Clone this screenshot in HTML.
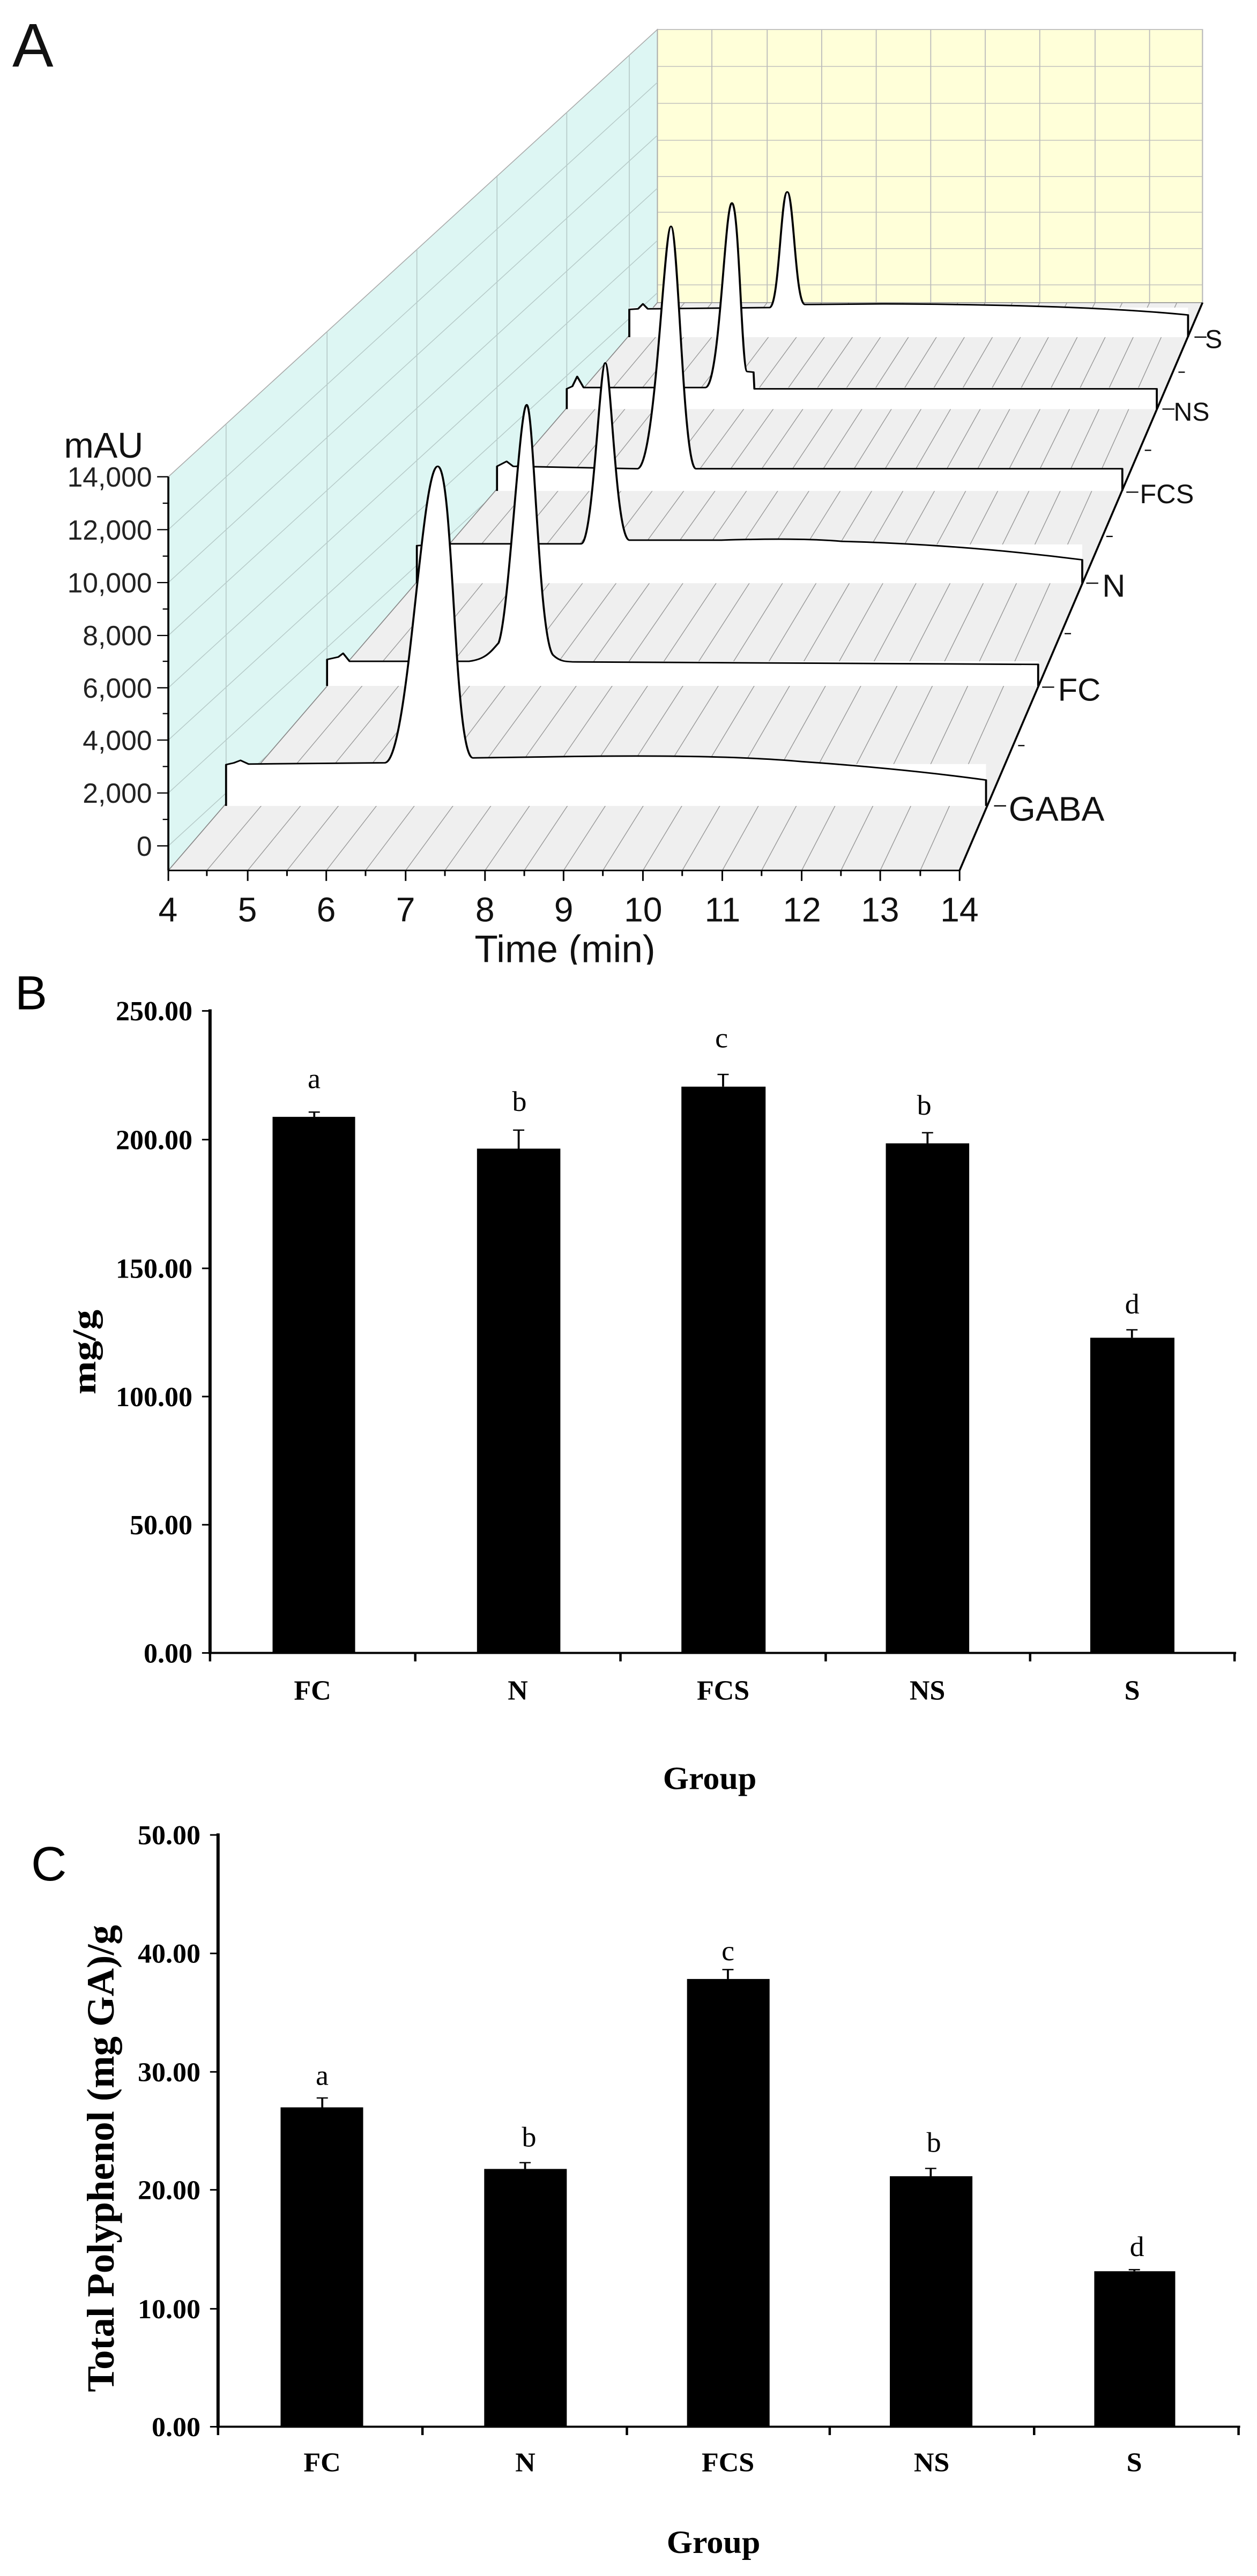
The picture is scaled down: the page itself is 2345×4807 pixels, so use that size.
<!DOCTYPE html>
<html><head><meta charset="utf-8"><style>
html,body{margin:0;padding:0;background:#fff;}
svg{display:block;position:absolute;left:0;}
.s{font-family:"Liberation Sans",sans-serif;}
.t{font-family:"Liberation Serif",serif;font-weight:bold;}
</style></head><body>
<div style="position:relative;width:2345px;height:4807px;overflow:hidden;">
<!-- Panel A -->
<svg style="top:0" width="2345" height="1800" viewBox="0 0 1568 1568" preserveAspectRatio="none">
<g class="s">
<rect x="820" y="48" width="680" height="444" fill="#ffffd9" stroke="#bbb" stroke-width="1.5"/>
<g stroke="#bbb" stroke-width="1.2">
<line x1="888" y1="48" x2="888" y2="492"/><line x1="957" y1="48" x2="957" y2="492"/><line x1="1025" y1="48" x2="1025" y2="492"/><line x1="1093" y1="48" x2="1093" y2="492"/><line x1="1161" y1="48" x2="1161" y2="492"/><line x1="1229" y1="48" x2="1229" y2="492"/><line x1="1297" y1="48" x2="1297" y2="492"/><line x1="1366" y1="48" x2="1366" y2="492"/><line x1="1434" y1="48" x2="1434" y2="492"/>
<line x1="820" y1="108" x2="1500" y2="108"/><line x1="820" y1="168" x2="1500" y2="168"/><line x1="820" y1="228" x2="1500" y2="228"/><line x1="820" y1="287" x2="1500" y2="287"/><line x1="820" y1="345" x2="1500" y2="345"/><line x1="820" y1="404" x2="1500" y2="404"/><line x1="820" y1="463" x2="1500" y2="463"/>
</g>
<polygon points="210,775 820,48 820,492 210,1415" fill="#ddf6f3" stroke="#aaa" stroke-width="1.2"/>
<g stroke="#b5c9c7" stroke-width="1.1">
<line x1="282" y1="690" x2="282" y2="1330"/><line x1="408" y1="540" x2="408" y2="1140"/><line x1="520" y1="406" x2="520" y2="970"/><line x1="620" y1="287" x2="620" y2="818"/><line x1="707" y1="183" x2="707" y2="680"/><line x1="785" y1="90" x2="785" y2="560"/>
<line x1="210" y1="861" x2="820" y2="134"/><line x1="210" y1="947" x2="820" y2="220"/><line x1="210" y1="1033" x2="820" y2="306"/><line x1="210" y1="1118" x2="820" y2="391"/><line x1="210" y1="1203" x2="820" y2="476"/><line x1="210" y1="1289" x2="745" y2="650"/><line x1="210" y1="1375" x2="620" y2="886"/>
</g>
<polygon points="210,1415 1197,1415 1500,492 820,492" fill="#efefef" stroke="#888" stroke-width="1.2"/>
<g stroke="#999" stroke-width="1">
<line x1="309" y1="1415" x2="888" y2="492"/><line x1="407" y1="1415" x2="957" y2="492"/><line x1="506" y1="1415" x2="1025" y2="492"/><line x1="605" y1="1415" x2="1093" y2="492"/><line x1="703" y1="1415" x2="1161" y2="492"/><line x1="802" y1="1415" x2="1229" y2="492"/><line x1="901" y1="1415" x2="1297" y2="492"/><line x1="1000" y1="1415" x2="1366" y2="492"/><line x1="1098" y1="1415" x2="1434" y2="492"/>
<line x1="258" y1="1415" x2="854" y2="492"/><line x1="358" y1="1415" x2="922" y2="492"/><line x1="456" y1="1415" x2="991" y2="492"/><line x1="555" y1="1415" x2="1059" y2="492"/><line x1="654" y1="1415" x2="1127" y2="492"/><line x1="752" y1="1415" x2="1195" y2="492"/><line x1="851" y1="1415" x2="1263" y2="492"/><line x1="950" y1="1415" x2="1331" y2="492"/><line x1="1049" y1="1415" x2="1400" y2="492"/><line x1="1148" y1="1415" x2="1468" y2="492"/>
</g>
<g fill="#fff" stroke="none">
<polygon points="785,500 1482,500 1482,548 785,548"/>
<polygon points="707,630 1443,630 1443,665 707,665"/>
<polygon points="620,762 1400,762 1400,798 620,798"/>
<polygon points="520,885 1350,885 1350,948 520,948"/>
<polygon points="408,1075 1295,1075 1295,1115 408,1115"/>
<polygon points="282,1242 1230,1242 1230,1310 282,1310"/>
</g>
<g fill="#fff" stroke="#000" stroke-width="2.5" stroke-linejoin="round">
<path d="M785,548 L785,503 L796,502 L802,494 L808,502 L960,500 C972,498 974,312 982,312 C990,312 992,494 1004,495 L1100,494 Q1350,495 1482,512 L1482,548"/>
<path d="M707,665 L707,632 L714,628 L720,612 L728,630 L880,630 C898,628 904,330 913,330 C922,330 925,603 932,604 L940,605 L941,632 L1443,632 L1443,665"/>
<path d="M620,798 L620,758 L632,750 L640,758 L795,762 C818,760 828,368 837,368 C846,368 852,760 868,762 L1400,762 L1400,798"/>
<path d="M520,948 L520,887 L560,884 L725,884 C740,882 748,590 755,590 C762,590 768,876 785,878 L900,878 Q1000,874 1050,880 Q1200,885 1350,910 L1350,948"/>
<path d="M408,1115 L408,1072 L422,1068 L428,1062 L436,1075 L585,1075 C605,1072 612,1060 622,1045 C635,1000 648,658 657,658 C666,658 672,1040 690,1065 C698,1075 705,1076 720,1076 L1295,1080 L1295,1115"/>
<path d="M282,1310 L282,1243 L292,1240 L300,1236 L310,1242 L480,1240 C510,1238 525,758 546,758 C566,758 566,1232 590,1232 L700,1230 Q900,1226 1000,1238 Q1130,1250 1230,1268 L1230,1310"/>
</g>
<g stroke="#000" stroke-width="2.5" fill="none">
<line x1="210" y1="775" x2="210" y2="1415"/>
<line x1="210" y1="1415" x2="1197" y2="1415"/>
<line x1="1197" y1="1415" x2="1500" y2="492"/>
</g>
<g stroke="#000" stroke-width="2">
<line x1="196" y1="775" x2="210" y2="775"/><line x1="196" y1="861" x2="210" y2="861"/><line x1="196" y1="947" x2="210" y2="947"/><line x1="196" y1="1033" x2="210" y2="1033"/><line x1="196" y1="1118" x2="210" y2="1118"/><line x1="196" y1="1203" x2="210" y2="1203"/><line x1="196" y1="1289" x2="210" y2="1289"/><line x1="196" y1="1375" x2="210" y2="1375"/>
<line x1="203" y1="818" x2="210" y2="818"/><line x1="203" y1="904" x2="210" y2="904"/><line x1="203" y1="990" x2="210" y2="990"/><line x1="203" y1="1075" x2="210" y2="1075"/><line x1="203" y1="1160" x2="210" y2="1160"/><line x1="203" y1="1246" x2="210" y2="1246"/><line x1="203" y1="1332" x2="210" y2="1332"/>
<line x1="210" y1="1415" x2="210" y2="1432"/><line x1="309" y1="1415" x2="309" y2="1432"/><line x1="407" y1="1415" x2="407" y2="1432"/><line x1="506" y1="1415" x2="506" y2="1432"/><line x1="605" y1="1415" x2="605" y2="1432"/><line x1="703" y1="1415" x2="703" y2="1432"/><line x1="802" y1="1415" x2="802" y2="1432"/><line x1="901" y1="1415" x2="901" y2="1432"/><line x1="1000" y1="1415" x2="1000" y2="1432"/><line x1="1098" y1="1415" x2="1098" y2="1432"/><line x1="1197" y1="1415" x2="1197" y2="1432"/>
<line x1="258" y1="1415" x2="258" y2="1424"/><line x1="358" y1="1415" x2="358" y2="1424"/><line x1="456" y1="1415" x2="456" y2="1424"/><line x1="555" y1="1415" x2="555" y2="1424"/><line x1="654" y1="1415" x2="654" y2="1424"/><line x1="752" y1="1415" x2="752" y2="1424"/><line x1="851" y1="1415" x2="851" y2="1424"/><line x1="950" y1="1415" x2="950" y2="1424"/><line x1="1049" y1="1415" x2="1049" y2="1424"/><line x1="1148" y1="1415" x2="1148" y2="1424"/>
<line x1="1240" y1="1310" x2="1255" y2="1310"/><line x1="1300" y1="1117" x2="1315" y2="1117"/><line x1="1355" y1="948" x2="1370" y2="948"/><line x1="1405" y1="800" x2="1420" y2="800"/><line x1="1450" y1="665" x2="1465" y2="665"/><line x1="1490" y1="548" x2="1505" y2="548"/>
<line x1="1270" y1="1212" x2="1278" y2="1212"/><line x1="1328" y1="1030" x2="1336" y2="1030"/><line x1="1380" y1="872" x2="1388" y2="872"/><line x1="1428" y1="732" x2="1436" y2="732"/><line x1="1470" y1="605" x2="1478" y2="605"/>
</g>
<g transform="scale(0.7677,1)" fill="#111">
<text x="20" y="108" font-size="100">A</text>
<g font-size="45" text-anchor="end" fill="#222">
<text x="247" y="791">14,000</text><text x="247" y="877">12,000</text><text x="247" y="963">10,000</text><text x="247" y="1049">8,000</text><text x="247" y="1134">6,000</text><text x="247" y="1219">4,000</text><text x="247" y="1305">2,000</text><text x="247" y="1391">0</text>
</g>
<text x="104" y="744" font-size="58">mAU</text>
<g font-size="56" text-anchor="middle">
<text x="273" y="1498">4</text><text x="402" y="1498">5</text><text x="530" y="1498">6</text><text x="659" y="1498">7</text><text x="788" y="1498">8</text><text x="916" y="1498">9</text><text x="1045" y="1498">10</text><text x="1174" y="1498">11</text><text x="1303" y="1498">12</text><text x="1430" y="1498">13</text><text x="1559" y="1498">14</text>
</g>
<text x="918" y="1564" font-size="62" text-anchor="middle">Time (min)</text>
<text x="1639" y="1334" font-size="56">GABA</text>
<text x="1719" y="1139" font-size="52">FC</text>
<text x="1791" y="970" font-size="52">N</text>
<text x="1852" y="818" font-size="44">FCS</text>
<text x="1907" y="684" font-size="42">NS</text>
<text x="1958" y="566" font-size="42">S</text>
</g>
</g>
</svg>

<!-- Panel B -->
<svg style="top:1750px" width="2345" height="1550" viewBox="0 0 1568 1568" preserveAspectRatio="none">
<g fill="#000">
<rect x="340" y="338" width="103" height="1012"/>
<rect x="595" y="398" width="104" height="952"/>
<rect x="850" y="281" width="105" height="1069"/>
<rect x="1105" y="388" width="104" height="962"/>
<rect x="1360" y="755" width="105" height="595"/>
</g>
<g stroke="#000" stroke-width="2.5">
<line x1="392" y1="338" x2="392" y2="329"/><line x1="385" y1="329" x2="399" y2="329"/>
<line x1="647" y1="398" x2="647" y2="363"/><line x1="640" y1="363" x2="654" y2="363"/>
<line x1="902" y1="281" x2="902" y2="258"/><line x1="895" y1="258" x2="909" y2="258"/>
<line x1="1157" y1="388" x2="1157" y2="368"/><line x1="1150" y1="368" x2="1164" y2="368"/>
<line x1="1412" y1="755" x2="1412" y2="740"/><line x1="1405" y1="740" x2="1419" y2="740"/>
</g>
<g stroke="#000" stroke-width="4">
<line x1="262" y1="135" x2="262" y2="1352"/><line x1="262" y1="1350" x2="1542" y2="1350"/>
</g>
<g stroke="#000" stroke-width="3">
<line x1="252" y1="138" x2="262" y2="138"/><line x1="252" y1="381" x2="262" y2="381"/><line x1="252" y1="624" x2="262" y2="624"/><line x1="252" y1="866" x2="262" y2="866"/><line x1="252" y1="1108" x2="262" y2="1108"/><line x1="252" y1="1350" x2="262" y2="1350"/>
<line x1="262" y1="1350" x2="262" y2="1366"/><line x1="518" y1="1350" x2="518" y2="1366"/><line x1="774" y1="1350" x2="774" y2="1366"/><line x1="1030" y1="1350" x2="1030" y2="1366"/><line x1="1285" y1="1350" x2="1285" y2="1366"/><line x1="1540" y1="1350" x2="1540" y2="1366"/>
</g>
<g transform="scale(0.6687,1)">
<text class="s" x="28" y="135" font-size="90">B</text>
<g class="t" font-size="52" text-anchor="end">
<text x="359" y="156">250.00</text><text x="359" y="399">200.00</text><text x="359" y="642">150.00</text><text x="359" y="884">100.00</text><text x="359" y="1126">50.00</text><text x="359" y="1368">0.00</text>
</g>
<g class="t" font-size="52" text-anchor="middle">
<text x="583" y="1438">FC</text><text x="966" y="1438">N</text><text x="1349" y="1438">FCS</text><text x="1730" y="1438">NS</text><text x="2112" y="1438">S</text>
</g>
<g font-family="Liberation Serif,serif" font-size="54" text-anchor="middle">
<text x="586" y="284">a</text><text x="969" y="327">b</text><text x="1346" y="207">c</text><text x="1724" y="334">b</text><text x="2112" y="709">d</text>
</g>
<text class="t" font-size="62" text-anchor="middle" textLength="160" lengthAdjust="spacingAndGlyphs" transform="translate(178,782) rotate(-90)">mg/g</text>
</g>
</svg>

<!-- Panel C -->
<svg style="top:3280px" width="2345" height="1527" viewBox="0 0 1568 1568" preserveAspectRatio="none">
<g fill="#000">
<rect x="350" y="670" width="103" height="612"/>
<rect x="604" y="788" width="103" height="494"/>
<rect x="857" y="424" width="103" height="858"/>
<rect x="1110" y="802" width="103" height="480"/>
<rect x="1365" y="984" width="101" height="298"/>
</g>
<g stroke="#000" stroke-width="2.5">
<line x1="402" y1="670" x2="402" y2="652"/><line x1="395" y1="652" x2="409" y2="652"/>
<line x1="655" y1="788" x2="655" y2="776"/><line x1="648" y1="776" x2="662" y2="776"/>
<line x1="908" y1="424" x2="908" y2="406"/><line x1="901" y1="406" x2="915" y2="406"/>
<line x1="1161" y1="802" x2="1161" y2="787"/><line x1="1154" y1="787" x2="1168" y2="787"/>
<line x1="1415" y1="984" x2="1415" y2="981"/><line x1="1408" y1="981" x2="1422" y2="981"/>
</g>
<g stroke="#000" stroke-width="4">
<line x1="272" y1="145" x2="272" y2="1284"/><line x1="272" y1="1282" x2="1547" y2="1282"/>
</g>
<g stroke="#000" stroke-width="3">
<line x1="262" y1="148" x2="272" y2="148"/><line x1="262" y1="375" x2="272" y2="375"/><line x1="262" y1="602" x2="272" y2="602"/><line x1="262" y1="828" x2="272" y2="828"/><line x1="262" y1="1056" x2="272" y2="1056"/><line x1="262" y1="1282" x2="272" y2="1282"/>
<line x1="272" y1="1282" x2="272" y2="1298"/><line x1="527" y1="1282" x2="527" y2="1298"/><line x1="782" y1="1282" x2="782" y2="1298"/><line x1="1035" y1="1282" x2="1035" y2="1298"/><line x1="1290" y1="1282" x2="1290" y2="1298"/><line x1="1545" y1="1282" x2="1545" y2="1298"/>
</g>
<g transform="scale(0.6687,1)">
<text class="t" x="1324" y="60" font-size="62" text-anchor="middle">Group</text>
<text class="s" x="58" y="235" font-size="92">C</text>
<g class="t" font-size="52" text-anchor="end">
<text x="374" y="166">50.00</text><text x="374" y="393">40.00</text><text x="374" y="620">30.00</text><text x="374" y="846">20.00</text><text x="374" y="1074">10.00</text><text x="374" y="1300">0.00</text>
</g>
<g class="t" font-size="52" text-anchor="middle">
<text x="601" y="1368">FC</text><text x="980" y="1368">N</text><text x="1358" y="1368">FCS</text><text x="1738" y="1368">NS</text><text x="2116" y="1368">S</text>
</g>
<g font-family="Liberation Serif,serif" font-size="54" text-anchor="middle">
<text x="601" y="627">a</text><text x="987" y="745">b</text><text x="1358" y="388">c</text><text x="1742" y="755">b</text><text x="2121" y="955">d</text>
</g>
<text class="t" font-size="72" text-anchor="middle" textLength="895" lengthAdjust="spacingAndGlyphs" transform="translate(212,768) rotate(-90)">Total Polyphenol (mg GA)/g</text>
<text class="t" x="1331" y="1524" font-size="62" text-anchor="middle">Group</text>
</g>
</svg>
</div>
</body></html>
